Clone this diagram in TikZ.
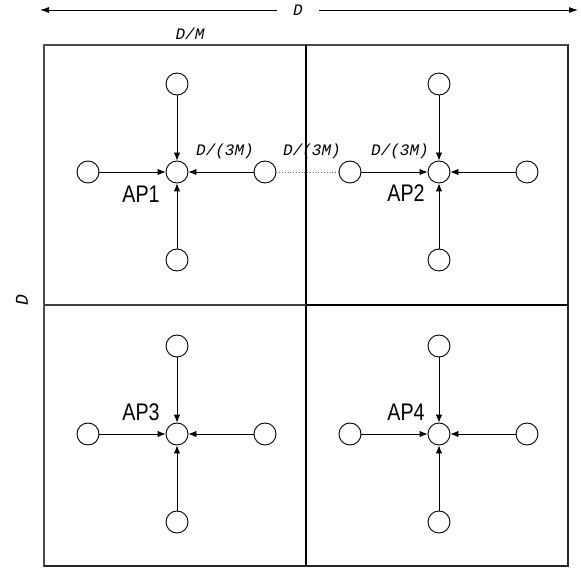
\documentclass[tikz,border=0pt]{standalone}
\usepackage{fontspec}
\setmainfont{Liberation Sans}
\newfontfamily\lblfont{Liberation Mono}
\usetikzlibrary{arrows.meta}
\tikzset{
 st/.style={circle,draw,line width=0.9pt,minimum size=22pt,inner sep=0pt},
 flow/.style={line width=0.9pt,-{Latex[length=8pt,width=6.5pt]}},
 dimlbl/.style={font=\lblfont\itshape\fontsize{16}{16}\selectfont, inner sep=1pt},
 aplbl/.style={font=\fontsize{24}{24}\selectfont, inner sep=0pt, xscale=0.82},
 dimarrow/.style={line width=0.9pt,-{Latex[length=9pt,width=6pt]}},
}
\begin{document}
\begin{tikzpicture}[x=1pt,y=-1pt]
\useasboundingbox (0,0) rectangle (581,569);
% outer frame and dividers
\draw[line width=1.3pt, black!70] (44,45) rectangle (568,566);
\draw[line width=1.3pt, black!85] (568,45) -- (568,566) -- (44,566);
\draw[line width=1.9pt] (306,45) -- (306,566);
\draw[line width=1.9pt, black!75] (44,305) -- (306,305);
\draw[line width=1.9pt] (306,305) -- (568,305);
% cells
\foreach \cx/\cy/\n in {177/172/1, 439/172/2, 177/434/3, 439/434/4}{
  \node[st] (c\n) at (\cx,\cy) {};
  \node[st] (t\n) at (\cx,{\cy-88}) {};
  \node[st] (b\n) at (\cx,{\cy+88}) {};
  \node[st] (l\n) at ({\cx-89},\cy) {};
  \node[st] (r\n) at ({\cx+88},\cy) {};
  \draw[flow] (t\n) -- (c\n);
  \draw[flow] (b\n) -- (c\n);
  \draw[flow] (l\n) -- (c\n);
  \draw[flow] (r\n) -- (c\n);
}
% AP labels
\node[aplbl] (ap1) at (141,194) {AP1};
\node[aplbl] (ap2) at (406,193) {AP2};
\node[aplbl] (ap3) at (141,412) {AP3};
\node[aplbl] (ap4) at (406,412) {AP4};
% dotted link
\draw[dotted, line width=0.8pt, black!60] (r1) -- (l2);
% distance labels
\node[dimlbl] (d1) at (225,151) {D/(3M)};
\node[dimlbl] (d2) at (312,151) {D/(3M)};
\node[dimlbl] (d3) at (400,151) {D/(3M)};
\node[dimlbl] (dm) at (190,34) {D/M};
\node[dimlbl, font=\lblfont\itshape\fontsize{18}{18}\selectfont, rotate=90] (dv) at (22,300) {D};
\node[dimlbl, inner sep=0pt, minimum width=42pt] (dtop) at (298,10) {D};
\coordinate (al) at (40,10);
\coordinate (ar) at (578,10);
\draw[dimarrow] (dtop.west) -- (al);
\draw[dimarrow] (dtop.east) -- (ar);
\end{tikzpicture}
\end{document}
